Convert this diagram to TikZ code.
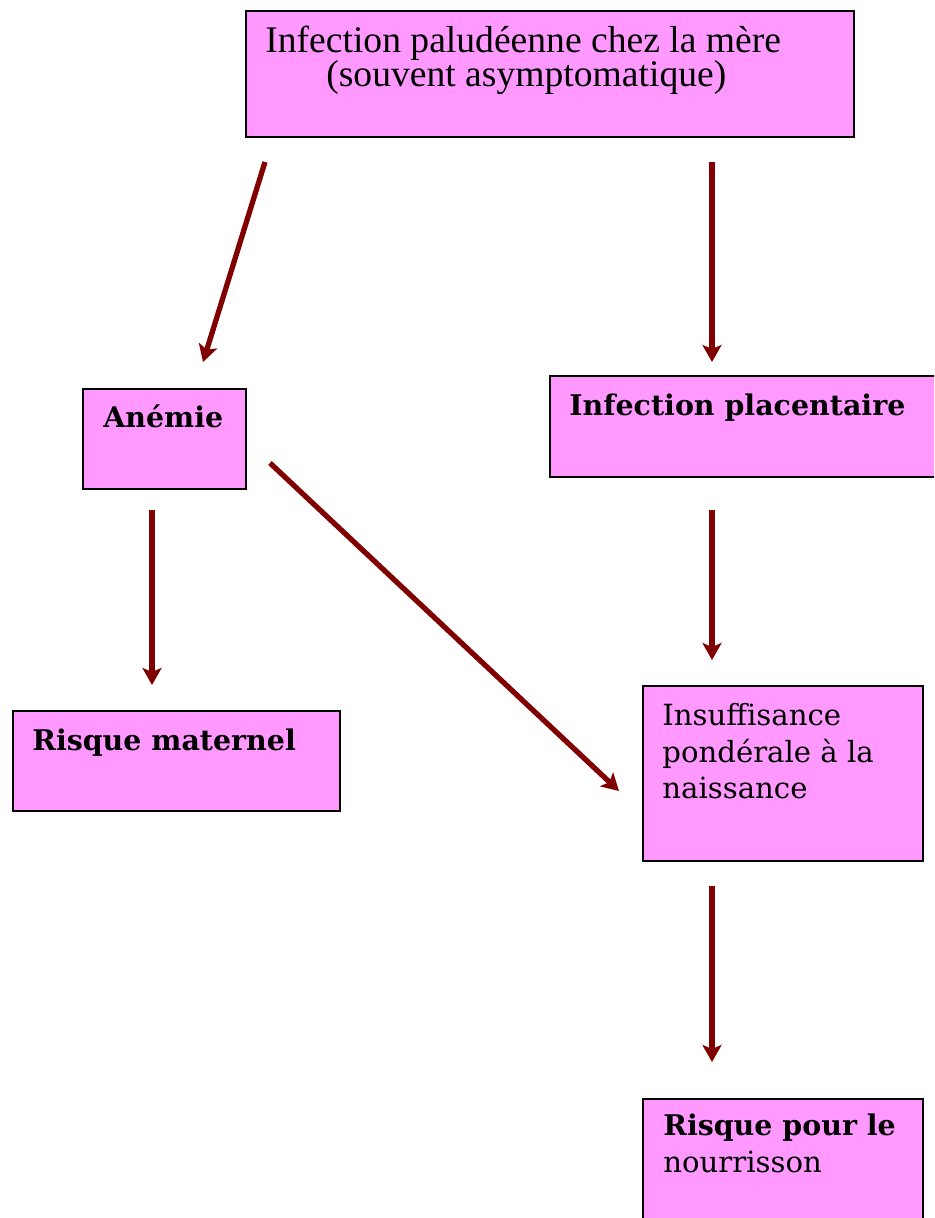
\documentclass[tikz,border=0pt]{standalone}
\usepackage{fontspec}
\setmainfont{Liberation Serif}
\newfontfamily\bookfont{DejaVu Serif}
\usetikzlibrary{
    arrows.meta,
    calc
}
\definecolor{boxpink}{RGB}{255,153,255}
\definecolor{arrowred}{RGB}{128,0,0}

\begin{document}
\begin{tikzpicture}[x=0.02cm,y=-0.02cm,
    box/.style={draw=black,line width=1.1pt,fill=boxpink,inner sep=0pt,anchor=north west},
    label/.style={anchor=base west,inner sep=0pt},
    arr/.style={draw=arrowred,line width=3pt,-{Stealth[length=0.34cm,width=0.38cm,inset=0.08cm]}}]

\useasboundingbox (0,0) rectangle (934,1218);
\clip (0,0) rectangle (934,1218);

% Boxes
\node[box,minimum width=12.16cm,minimum height=2.52cm] (mere) at (245,10) {};
\node[box,minimum width=3.26cm,minimum height=2.0cm] (anemie) at (82,388) {};
\node[box,minimum width=7.92cm,minimum height=2.02cm] (placenta) at (549,375) {};
\node[box,minimum width=6.54cm,minimum height=2.0cm] (maternel) at (12,710) {};
\node[box,minimum width=5.6cm,minimum height=3.5cm] (poids) at (642,685) {};
\node[box,minimum width=5.6cm,minimum height=2.84cm] (nourr) at (642,1098) {};

% Labels
\node[label,font=\fontsize{21.4}{25}\selectfont] (mereA) at (265,52) {Infection paludéenne chez la mère};
\node[label,font=\fontsize{21.4}{25}\selectfont] (mereB) at (326,86) {(souvent asymptomatique)};
\node[label,font=\bookfont\bfseries\fontsize{16.2}{20}\selectfont] (anemieT) at (103,427) {Anémie};
\node[label,font=\bookfont\bfseries\fontsize{16.2}{20}\selectfont] (placentaT) at (569,415) {Infection placentaire};
\node[label,font=\bookfont\bfseries\fontsize{16.2}{20}\selectfont] (maternelT) at (32,750) {Risque maternel};
\node[label,font=\bookfont\fontsize{16.6}{20}\selectfont] (poidsA) at (662,725) {Insuffisance};
\node[label,font=\bookfont\fontsize{16.6}{20}\selectfont] (poidsB) at (662,762) {pondérale à la};
\node[label,font=\bookfont\fontsize{16.6}{20}\selectfont] (poidsC) at (662,798) {naissance};
\node[label,font=\bookfont\bfseries\fontsize{16.2}{20}\selectfont] (nourrA) at (663,1135) {Risque pour le};
\node[label,font=\bookfont\fontsize{16.6}{20}\selectfont] (nourrB) at (663,1172) {nourrisson};

% Arrow ends
\coordinate (m1) at (265,162);
\coordinate (m2) at (712,162);
\coordinate (a0) at (203,362);
\coordinate (p0) at (712,362);
\coordinate (a1) at (152,510);
\coordinate (a2) at (270,463);
\coordinate (r0) at (152,685);
\coordinate (i0) at (619,791);
\coordinate (p1) at (712,510);
\coordinate (i1) at (712,660);
\coordinate (i2) at (712,886);
\coordinate (n0) at (712,1062);

% Arrows
\draw[arr] (m1) -- (a0);
\draw[arr] (m2) -- (p0);
\draw[arr] (a1) -- (r0);
\draw[arr] (a2) -- (i0);
\draw[arr] (p1) -- (i1);
\draw[arr] (i2) -- (n0);

\end{tikzpicture}
\end{document}
